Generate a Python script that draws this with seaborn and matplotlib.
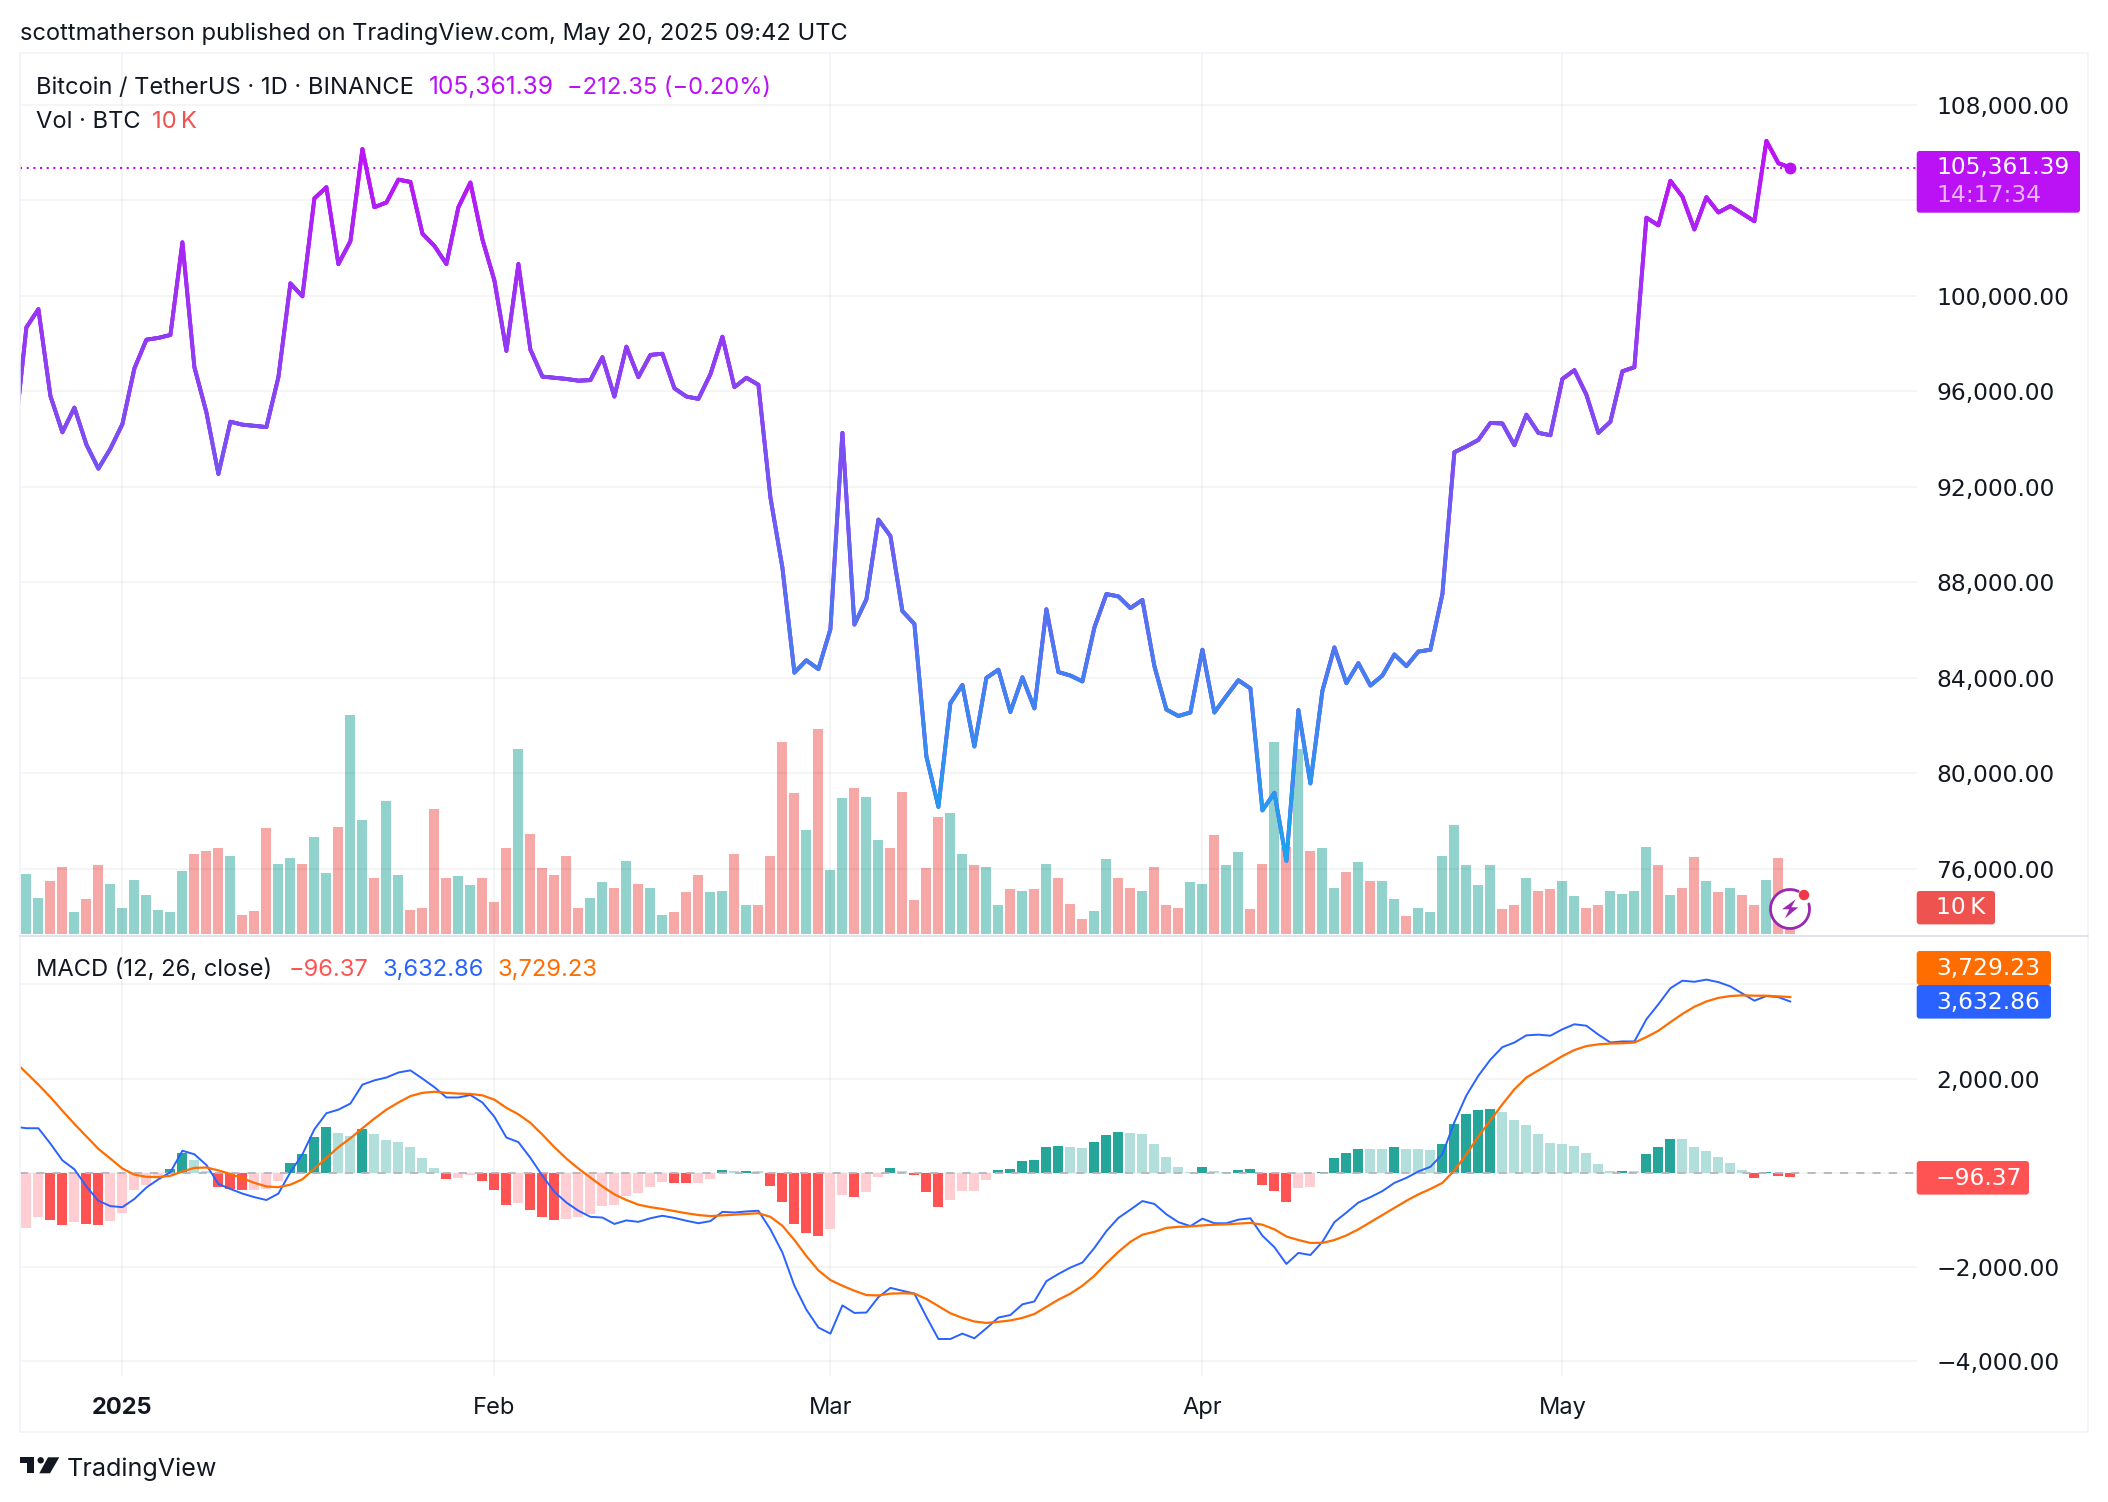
import numpy as np
import pandas as pd
import matplotlib
matplotlib.use('Agg')
import matplotlib.pyplot as plt
import matplotlib.patches as mpatches
import matplotlib.transforms as mtransforms
from matplotlib.collections import LineCollection
from matplotlib.colors import LinearSegmentedColormap, Normalize
from matplotlib.lines import Line2D
import seaborn as sns

# DATA, daily from 23 Dec 2024 to 20 May 2025
close = [
    94000, 98675, 99436, 95804, 94282, 95313, 93767, 92761, 93595, 94626, 96957, 98159, 98233, 98356, 102233,
    97006, 95116, 92540, 94724, 94601, 94552, 94500, 96589, 100515, 99975, 104074, 104540, 101325, 102282, 106135,
    103705, 103902, 104859, 104761, 102601, 102086, 101325, 103705, 104736, 102356, 100638, 97693, 101325, 97742, 96613,
    96564, 96515, 96442, 96466, 97423, 95779, 97865, 96589, 97521, 97570, 96123, 95779, 95681, 96712, 98282,
    96172, 96564, 96270, 91558, 88613, 84221, 84736, 84368, 86037, 94258, 86233, 87288, 90626, 89939, 86797,
    86258, 80712, 78601, 82945, 83705, 81129, 84000, 84343, 82577, 84024, 82724, 86871, 84245, 84098, 83853,
    86110, 87509, 87411, 86920, 87264, 84491, 82675, 82405, 82552, 85178, 82552, 83239, 83902, 83558, 78454,
    79190, 76343, 82650, 79583, 83460, 85276, 83779, 84613, 83681, 84098, 84981, 84491, 85104, 85178, 87509,
    93448, 93693, 93963, 94675, 94650, 93742, 95018, 94258, 94159, 96515, 96883, 95853, 94258, 94724, 96834,
    97006, 103264, 102945, 104810, 104147, 102773, 104123, 103485, 103755, 103436, 103117, 106479, 105546, 105361.39,
]
# volume in thousand BTC, starts one day after close
volume = [
    22.6, 13.8, 20.2, 25.3, 8.2, 13.1, 26.0, 18.9, 10.0, 20.6, 14.7, 8.9, 8.2, 24.0,
    30.2, 31.5, 32.4, 29.7, 7.1, 8.7, 40.0, 26.4, 28.6, 26.4, 36.6, 22.9, 40.6, 83.0, 43.1,
    21.1, 50.2, 22.2, 8.9, 9.8, 47.5, 21.1, 21.8, 18.4, 21.1, 12.0, 32.4, 69.9, 37.7, 24.9,
    22.2, 29.7, 10.0, 13.5, 19.5, 17.5, 27.5, 19.1, 17.3, 7.3, 8.2, 15.8, 22.2, 15.8, 16.4,
    30.4, 10.9, 10.9, 29.7, 72.8, 53.3, 39.5, 77.7, 24.4, 51.3, 55.1, 51.7, 35.7, 32.4, 53.9,
    12.7, 24.9, 44.4, 45.7, 30.2, 26.0, 25.3, 11.1, 16.9, 16.4, 16.9, 26.6, 21.1, 11.5, 5.6,
    8.7, 28.2, 21.3, 17.5, 16.4, 25.5, 11.1, 9.8, 19.5, 19.1, 37.3, 26.0, 30.9, 9.3, 26.4,
    72.8, 33.1, 70.2, 31.3, 32.4, 17.5, 23.3, 27.1, 20.0, 20.0, 13.1, 6.7, 9.8, 8.2, 29.7,
    41.1, 26.0, 18.4, 26.0, 9.3, 10.9, 21.1, 16.2, 16.9, 20.2, 14.2, 9.8, 10.9, 16.4, 15.3,
    16.2, 32.9, 26.0, 14.7, 17.3, 29.3, 20.2, 15.8, 17.3, 14.9, 11.1, 20.6, 28.6, 10.0,
]
macd = [
    980, 947, 947, 621, 265, 76, -288, -591, -705, -727, -553, -311, -136, 15, 470,
    394, 167, -235, -341, -439, -515, -576, -439, 15, 394, 924, 1265, 1341, 1470, 1871,
    1962, 2023, 2129, 2174, 2000, 1818, 1599, 1599, 1652, 1492, 1189, 750, 652, 318, -61,
    -402, -629, -803, -932, -947, -1083, -1008, -1038, -962, -909, -955, -1015, -1068, -1023, -826,
    -841, -818, -803, -1197, -1689, -2394, -2902, -3280, -3409, -2811, -2970, -2962, -2636, -2439, -2500,
    -2561, -3053, -3523, -3523, -3409, -3508, -3296, -3068, -3015, -2788, -2727, -2296, -2144, -2008, -1902,
    -1591, -1235, -955, -780, -598, -659, -879, -1045, -1129, -970, -1068, -1068, -992, -962, -1333,
    -1576, -1932, -1697, -1742, -1462, -1045, -841, -629, -515, -386, -212, -106, 30, 129, 394,
    1076, 1644, 2061, 2402, 2667, 2765, 2917, 2932, 2909, 3046, 3152, 3121, 2932, 2765, 2788,
    2788, 3258, 3576, 3917, 4076, 4053, 4099, 4046, 3955, 3803, 3652, 3750, 3727, 3632.86,
]
signal = [
    2364, 2121, 1871, 1606, 1318, 1038, 773, 508, 303, 91, -38, -83, -91, -61, 30,
    106, 114, 53, -23, -114, -212, -288, -303, -250, -136, 91, 318, 545, 735, 947,
    1152, 1341, 1492, 1629, 1697, 1720, 1697, 1682, 1674, 1644, 1553, 1379, 1242, 1061, 811,
    545, 303, 91, -98, -288, -455, -576, -674, -727, -765, -811, -856, -894, -917, -902,
    -886, -871, -856, -932, -1121, -1424, -1765, -2068, -2273, -2394, -2500, -2591, -2599, -2561, -2553,
    -2561, -2674, -2826, -2977, -3076, -3152, -3182, -3159, -3129, -3076, -2993, -2841, -2689, -2561, -2394,
    -2182, -1917, -1674, -1462, -1311, -1250, -1167, -1144, -1136, -1114, -1099, -1091, -1076, -1061, -1099,
    -1197, -1349, -1424, -1485, -1485, -1424, -1326, -1197, -1045, -894, -742, -591, -455, -341, -212,
    53, 394, 773, 1114, 1455, 1773, 2023, 2174, 2326, 2477, 2606, 2689, 2727, 2743, 2750,
    2765, 2879, 3015, 3197, 3371, 3523, 3636, 3712, 3750, 3765, 3758, 3758, 3743, 3729.23,
]
# histogram, same dates as volume
hist = [
    -1159, -932, -992, -1099, -1045, -1083, -1099, -1023, -841, -364, -265, -98, 91, 432,
    273, 30, -303, -341, -364, -355, -341, -174, 212, 394, 758, 970, 849, 773, 939,
    826, 697, 652, 545, 318, 106, -129, -106, -38, -182, -364, -682, -629, -788, -939,
    -992, -985, -932, -871, -705, -682, -492, -424, -303, -197, -212, -218, -210, -129, 61,
    38, 42, 36, -280, -614, -1083, -1273, -1341, -1182, -470, -515, -409, -91, 106, 38,
    -38, -402, -720, -568, -386, -380, -144, 53, 91, 242, 265, 545, 568, 545, 530,
    652, 803, 864, 849, 826, 614, 333, 121, 15, 121, 38, 15, 61, 83, -258,
    -386, -614, -318, -303, 15, 318, 424, 508, 503, 498, 545, 508, 503, 485, 614,
    1038, 1250, 1333, 1356, 1288, 1121, 1015, 826, 636, 614, 568, 424, 189, 30, 38,
    30, 402, 545, 720, 715, 545, 462, 333, 212, 53, -105, 15, -72, -96.37,
]
price_ticks = [76000, 80000, 84000, 88000, 92000, 96000, 100000, 108000]
price_grid = [76000, 80000, 84000, 88000, 92000, 96000, 100000, 104000, 108000]
macd_ticks = [-4000, -2000, 2000]
macd_grid = [-4000, -2000, 0, 2000, 4000]
month_dates = ['2025-01-01', '2025-02-01', '2025-03-01', '2025-04-01', '2025-05-01']
month_labels = ['2025', 'Feb', 'Mar', 'Apr', 'May']
last_price = 105361.39

W, H = 2108, 1502
GREEN, RED = '#26A69A', '#EF5350'
PURPLE = '#BA12F5'
TEXT = '#131722'
GRID = dict(color='black', alpha=0.05, linewidth=1.1)
AXIS_FONT = dict(family='DejaVu Sans', fontsize=16.8)

sns.set_theme(style='white')
plt.rcParams['font.family'] = ['Inter', 'DejaVu Sans']
plt.rcParams['text.color'] = TEXT

dates = pd.date_range('2024-12-23', periods=len(close))
start = pd.Timestamp('2025-01-01')
days = (dates - start).days.to_numpy()
month_days = [(pd.Timestamp(d) - start).days for d in month_dates]

fig = plt.figure(figsize=(W / 100, H / 100), dpi=100, facecolor='white')
# pixel coordinates measured from the top left of the picture
px = mtransforms.Affine2D().scale(1 / W, -1 / H).translate(0, 1) + fig.transFigure

LEFT, RIGHT = 20.4, 1917
x_lim = ((LEFT - 122.4) / 12, (RIGHT - 122.4) / 12)


def pane(top, bottom):
    return [LEFT / W, 1 - bottom / H, (RIGHT - LEFT) / W, (bottom - top) / H]


# PAINEL DE PRECO E VOLUME
ax_vol = fig.add_axes(pane(53, 935))
vol = pd.DataFrame({'day': days[1:], 'volume': volume,
                    'dir': np.where(np.diff(close) >= 0, 'up', 'down')})
sns.barplot(data=vol, x='day', y='volume', hue='dir', palette={'up': GREEN, 'down': RED},
            native_scale=True, dodge=False, width=0.84, saturation=1, alpha=0.5,
            linewidth=0, legend=False, errorbar=None, ax=ax_vol)
ax_vol.set_ylim(-0.4, 333.6)
ax_vol.set_xlim(*x_lim)
ax_vol.axis('off')

ax = ax_vol.twinx()
ax.patch.set_alpha(0)
prices = pd.DataFrame({'day': days, 'close': close})
sns.lineplot(data=prices, x='day', y='close', color=PURPLE, linewidth=2.8, ax=ax)

# degrade do preco, azul embaixo e roxo em cima
cmap = LinearSegmentedColormap.from_list('price', ['#17A7EF', '#BD14F5'])
seg_x = np.concatenate([np.linspace(days[i], days[i + 1], 13) for i in range(len(days) - 1)])
seg_y = np.concatenate([np.linspace(close[i], close[i + 1], 13) for i in range(len(days) - 1)])
pts = np.column_stack([seg_x, seg_y])
segs = np.stack([pts[:-1], pts[1:]], axis=1)
lc = LineCollection(segs, cmap=cmap, norm=Normalize(76000, 106000), linewidth=2.8, capstyle='round', zorder=3)
lc.set_array(seg_y[:-1])
ax.add_collection(lc)

ax.axhline(last_price, color=PURPLE, linewidth=1.5, linestyle=(0, (1, 2.2)), zorder=2)
ax.plot([days[-1]], [last_price], 'o', color=PURPLE, markersize=7.5, zorder=4)
ax.set_xlim(*x_lim)
ax.set_ylim(73237, 110160)
ax.set_yticks(price_ticks)
ax.set_yticklabels([f'{v:,.2f}' for v in price_ticks], color=TEXT, **AXIS_FONT)
ax.set_xticks(month_days)
ax.set_xticklabels([])
ax.set_xlabel('')
ax.set_ylabel('')
ax.tick_params(axis='both', length=0)
ax.tick_params(axis='y', pad=14)
for g in price_grid:
    ax.axhline(g, zorder=0, **GRID)
for d in month_days:
    ax.axvline(d, zorder=0, **GRID)
sns.despine(ax=ax, left=True, right=True, top=True, bottom=True)

# PAINEL MACD
ax_macd = fig.add_axes(pane(936, 1376))
hist_prev = [0] + hist[:-1]
hist_kind = []
for v, p in zip(hist, hist_prev):
    if v >= 0:
        hist_kind.append('g_strong' if v > p else 'g_soft')
    else:
        hist_kind.append('r_strong' if v < p else 'r_soft')
hist_kind[0] = 'r_soft'
bars = pd.DataFrame({'day': days[1:], 'hist': hist, 'kind': hist_kind})
sns.barplot(data=bars, x='day', y='hist', hue='kind',
            palette={'g_strong': GREEN, 'g_soft': '#B2DFDB', 'r_strong': '#FF5252', 'r_soft': '#FFCDD2'},
            native_scale=True, dodge=False, width=0.84, saturation=1, linewidth=0,
            legend=False, errorbar=None, ax=ax_macd)
lines = pd.DataFrame({'day': days, 'macd': macd, 'signal': signal})
sns.lineplot(data=lines, x='day', y='macd', color='#2962FF', linewidth=1.4, ax=ax_macd)
sns.lineplot(data=lines, x='day', y='signal', color='#FF6D00', linewidth=1.6, ax=ax_macd)
ax_macd.axhline(0, color='#B2B5BE', linewidth=1.3, linestyle=(0, (4.5, 4.5)), zorder=1.5)
ax_macd.set_xlim(*x_lim)
ax_macd.set_ylim(-4308, 5024)
ax_macd.yaxis.tick_right()
ax_macd.set_yticks(macd_ticks)
ax_macd.set_yticklabels([f'{v:,.2f}'.replace('-', '\u2212') for v in macd_ticks], color=TEXT, **AXIS_FONT)
ax_macd.set_xticks(month_days)
ax_macd.set_xticklabels(month_labels, fontsize=17, color=TEXT)
ax_macd.get_xticklabels()[0].set_fontweight('bold')
ax_macd.set_xlabel('')
ax_macd.set_ylabel('')
ax_macd.tick_params(axis='both', length=0)
ax_macd.tick_params(axis='y', pad=14)
ax_macd.tick_params(axis='x', pad=15)
for g in macd_grid:
    ax_macd.axhline(g, zorder=0, **GRID)
for d in month_days:
    ax_macd.axvline(d, zorder=0, **GRID)
sns.despine(ax=ax_macd, left=True, right=True, top=True, bottom=True)


# MOLDURA E TEXTOS
def frame_line(x0, y0, x1, y1, color='#F0F3FA', lw=1.1):
    fig.add_artist(Line2D([x0, x1], [y0, y1], color=color, linewidth=lw, transform=px))


frame_line(20, 53, 2088, 53)
frame_line(20, 53, 20, 1432)
frame_line(2088, 53, 2088, 1432)
frame_line(20, 1432, 2088, 1432)
frame_line(20, 936, 2088, 936, color='#E0E3EB', lw=1.4)


def label(x, y, s, color=TEXT, size=17.05, **kw):
    fig.text(x, y, s, color=color, fontsize=size, va='center', ha='left', transform=px, **kw)


def box_label(y, s, **kw):
    fig.text(1936, y, s, color='white', va='center', ha='left', transform=px, **AXIS_FONT, **kw)


def price_box(x1, y0, y1, color):
    fig.add_artist(mpatches.FancyBboxPatch((1918.7, y0 + 2), x1 - 1918.7 - 2, y1 - y0 - 4,
                                           boxstyle='round,pad=2,rounding_size=3', facecolor=color,
                                           edgecolor='none', transform=px))


label(20, 33.5, 'scottmatherson published on TradingView.com, May 20, 2025 09:42 UTC')
label(36.4, 88, 'Bitcoin / TetherUS \u00b7 1D \u00b7 BINANCE')
label(428.6, 88, '105,361.39', color=PURPLE, size=17.7)
label(567, 88, '\u2212212.35 (\u22120.20%)', color=PURPLE)
label(36.4, 122, 'Vol \u00b7 BTC')
label(152, 122, '10\u2009K', color=RED)
label(36.4, 970, 'MACD (12, 26, close)')
label(289, 970, '\u221296.37', color='#FF5252')
label(382.6, 970, '3,632.86', color='#2962FF')
label(497.4, 970, '3,729.23', color='#FF6D00')

price_box(2080, 151, 212.7, PURPLE)
box_label(167.5, '105,361.39')
box_label(195.5, '14:17:34', alpha=0.7)
price_box(1995, 891, 924.4, RED)
box_label(908, '10\u2009K')
price_box(2051, 951, 985, '#FF6D00')
box_label(968.5, '3,729.23')
price_box(2051, 985, 1018.6, '#2962FF')
box_label(1002, '3,632.86')
price_box(2029, 1161, 1194.6, '#FF5252')
box_label(1178.5, '\u221296.37')

# icone do raio
fig.add_artist(mpatches.Circle((1790, 909), 20, facecolor='white', edgecolor='none', transform=px))
theta = np.radians(np.linspace(-15, 295, 80))
fig.add_artist(Line2D(1790 + 19.5 * np.cos(theta), 909 + 19.5 * np.sin(theta), color='#9C27B0',
                      linewidth=2, transform=px))
fig.add_artist(mpatches.Polygon([(1795.7, 899.3), (1782, 909.3), (1789.3, 909.3), (1785, 918.3),
                                 (1798.3, 907.3), (1791.3, 907.3)], closed=True,
                                facecolor='#9C27B0', edgecolor='none', transform=px))
fig.add_artist(mpatches.Circle((1804, 895), 5.2, facecolor='#F23645', edgecolor='none', transform=px))

# logo TradingView
LOGO = '#131722'
fig.add_artist(mpatches.Polygon([(20, 1457.3), (34, 1457.3), (34, 1473.3), (26.7, 1473.3), (26.7, 1463.3), (20, 1463.3)],
                                closed=True, facecolor=LOGO, edgecolor='none', transform=px))
fig.add_artist(mpatches.Circle((40.7, 1460.3), 3.2, facecolor=LOGO, edgecolor='none', transform=px))
fig.add_artist(mpatches.Polygon([(48, 1457.3), (59.3, 1457.3), (50, 1473.3), (39.3, 1473.3)],
                                closed=True, facecolor=LOGO, edgecolor='none', transform=px))
label(67, 1469.5, 'TradingView', size=18.1)

fig.savefig('out.png', dpi=100)
